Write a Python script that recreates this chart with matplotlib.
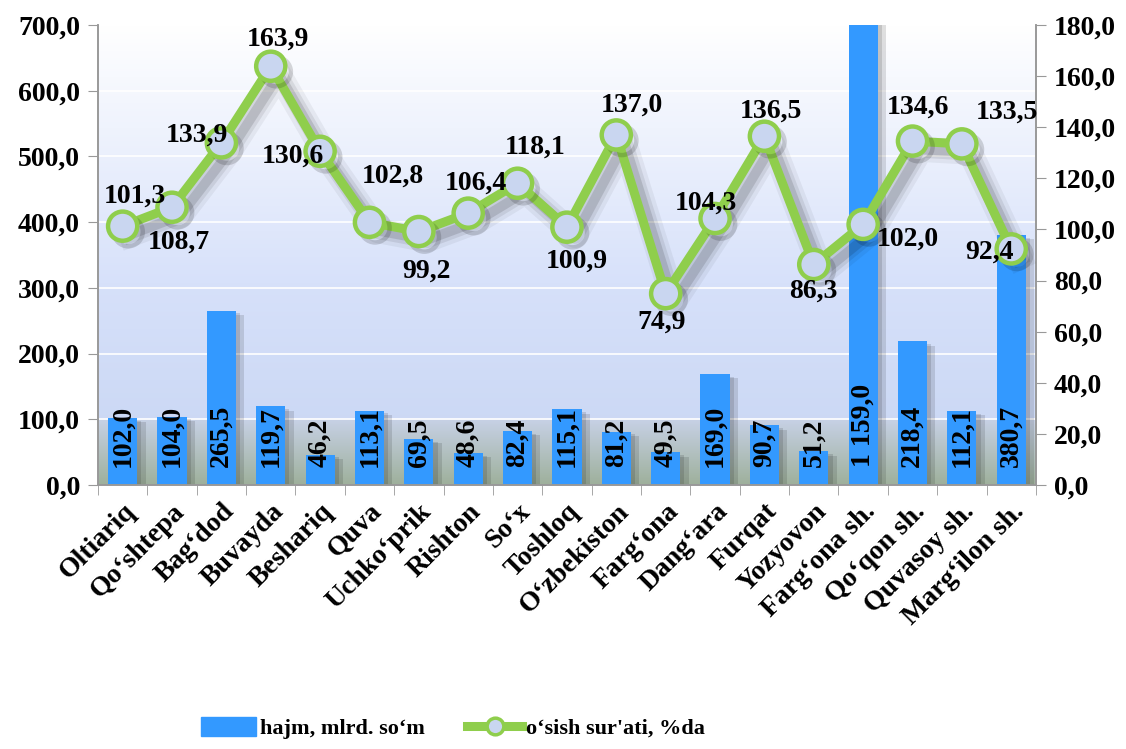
import numpy as np
import matplotlib
matplotlib.use('Agg')
import matplotlib.pyplot as plt
import matplotlib.patheffects as pe
from matplotlib.ticker import FuncFormatter, MultipleLocator
from matplotlib.lines import Line2D
from matplotlib.patches import Patch

plt.rcParams['font.family'] = ['Liberation Serif', 'DejaVu Serif']
plt.rcParams['font.weight'] = 'bold'

districts = ['Oltiariq', 'Qo‘shtepa', 'Bag‘dod', 'Buvayda', 'Beshariq', 'Quva',
             'Uchko‘prik', 'Rishton', 'So‘x', 'Toshloq', 'O‘zbekiston', 'Farg‘ona',
             'Dang‘ara', 'Furqat', 'Yozyovon', 'Farg‘ona sh.', 'Qo‘qon sh.',
             'Quvasoy sh.', 'Marg‘ilon sh.']
hajm = [102.0, 104.0, 265.5, 119.7, 46.2, 113.1, 69.5, 48.6, 82.4, 115.1,
        81.2, 49.5, 169.0, 90.7, 51.2, 1159.0, 218.4, 112.1, 380.7]
osish = [101.3, 108.7, 133.9, 163.9, 130.6, 102.8, 99.2, 106.4, 118.1, 100.9,
         137.0, 74.9, 104.3, 136.5, 86.3, 102.0, 134.6, 133.5, 92.4]
# where each growth label sits relative to its point (pixels, y up)
lbl_off = [(12, 30), (7, -35), (-24, 8), (7, 27), (-27, -5), (23, 46), (8, -40),
           (8, 30), (18, 36), (10, -34), (16, 30), (-4, -29), (-9, 15), (7, 25),
           (0, -27), (45, -15), (5, 34), (45, 32), (-22, -3)]

BAR = '#3399ff'
GREEN = '#8fce4c'
FS = 20


def comma(v, pos=None):
    return f'{v:,.1f}'.replace(',', ' ').replace('.', ',')


fig = plt.figure(figsize=(11.26, 7.49), dpi=100)
ax = fig.add_axes([0.087, 0.3525, 0.833, 0.614])
ax2 = ax.twinx()

x = np.arange(len(districts))
ax.set_xlim(-0.5, len(districts) - 0.5)
ax.set_ylim(0, 700)
ax2.set_ylim(0, 180)

# plot area background: white to pale blue, darker floor band under 100
vals = np.linspace(0, 700, 400)
stops = [0, 99, 100, 300, 700]
cols = np.array([[0.62, 0.69, 0.61], [0.78, 0.82, 0.90], [0.80, 0.85, 0.96],
                 [0.84, 0.88, 0.98], [1.0, 1.0, 1.0]])
grad = np.stack([np.interp(vals, stops, cols[:, c]) for c in range(3)], axis=1)
ax.imshow(grad[:, None, :], extent=(-0.5, len(districts) - 0.5, 0, 700),
          origin='lower', aspect='auto', zorder=0)
for g in range(100, 700, 100):
    ax.axhline(g, color='white', lw=1.2, zorder=1)

bar_shadow = [pe.SimplePatchShadow(offset=(6, -3), shadow_rgbFace='k', alpha=0.12),
              pe.SimplePatchShadow(offset=(3, -2), shadow_rgbFace='k', alpha=0.12),
              pe.Normal()]
bars = ax.bar(x, hajm, width=0.59, color=BAR, zorder=2, path_effects=bar_shadow)
for xi, v in zip(x, hajm):
    ax.text(xi, 27, comma(v), rotation=90, ha='center', va='bottom',
            fontsize=FS, fontweight='bold', zorder=3)

line_shadow = [pe.SimpleLineShadow(offset=(6, -6), shadow_color='k', alpha=0.05, linewidth=18),
               pe.SimpleLineShadow(offset=(6, -6), shadow_color='k', alpha=0.08, linewidth=12),
               pe.SimpleLineShadow(offset=(6, -6), shadow_color='k', alpha=0.12, linewidth=7),
               pe.Normal()]
ax2.plot(x, osish, color=GREEN, lw=6.5, zorder=4, path_effects=line_shadow)
ax2.plot(x, osish, ls='none', marker='o', ms=21, mfc='#c9d6f0', mec=GREEN, mew=3.2,
         zorder=4,
         path_effects=[pe.SimpleLineShadow(offset=(4, -4), shadow_color='k', alpha=0.15),
                       pe.Normal()])
for xi, v, (dx, dy) in zip(x, osish, lbl_off):
    ax2.annotate(comma(v), (xi, v), xytext=(dx, dy), textcoords='offset pixels',
                 ha='center', va='center', fontsize=FS, fontweight='bold', zorder=5)

ax.yaxis.set_major_locator(MultipleLocator(100))
ax2.yaxis.set_major_locator(MultipleLocator(20))
ax.yaxis.set_major_formatter(FuncFormatter(comma))
ax2.yaxis.set_major_formatter(FuncFormatter(comma))

ax.set_xticks(x)
ax.set_xticklabels(districts, rotation=45, ha='right', rotation_mode='anchor',
                   fontsize=FS, fontweight='bold')
ax.tick_params(axis='x', length=0, pad=10)
ax.set_xticks(np.arange(-0.5, len(districts), 1), minor=True)
ax.tick_params(axis='x', which='minor', length=7, color='#999999')
ax.tick_params(axis='y', labelsize=FS, length=7, color='#999999', pad=6)
ax2.tick_params(axis='y', labelsize=FS, length=7, color='#999999', pad=6)
for lab in ax.get_yticklabels() + ax2.get_yticklabels():
    lab.set_fontweight('bold')

for a in (ax, ax2):
    a.spines['top'].set_visible(False)
    for s in ('left', 'right', 'bottom'):
        a.spines[s].set_color('#999999')
        a.spines[s].set_linewidth(1.2)
ax2.patch.set_visible(False)

handles = [Patch(color=BAR),
           Line2D([], [], color=GREEN, lw=6.5, marker='o', ms=12, mfc='#c9d6f0',
                  mec=GREEN, mew=2.5)]
fig.legend(handles, ['hajm, mlrd. so‘m', 'o‘sish sur\'ati, %da'], loc='center',
           bbox_to_anchor=(0.402, 0.028), ncol=2, frameon=False,
           prop={'size': 16, 'weight': 'bold'}, handlelength=2.5,
           handleheight=0.9, columnspacing=1.9, handletextpad=0.15)

fig.savefig('out.png', dpi=100)
